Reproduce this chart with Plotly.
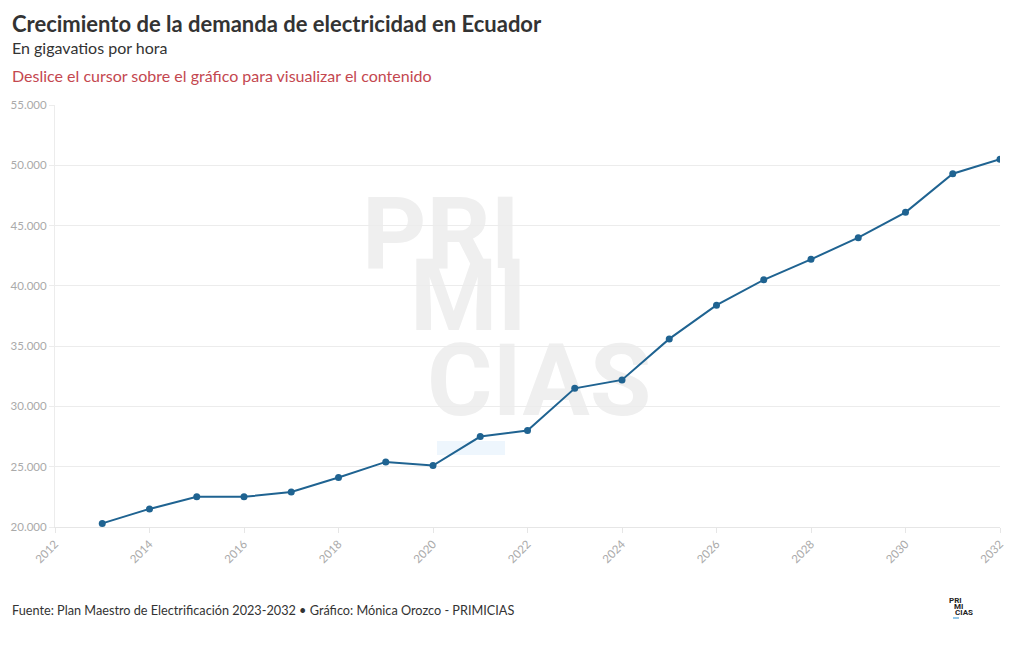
import plotly.graph_objects as go

years = [2013, 2014, 2015, 2016, 2017, 2018, 2019, 2020, 2021, 2022,
         2023, 2024, 2025, 2026, 2027, 2028, 2029, 2030, 2031, 2032]
demanda_gwh = [20300, 21500, 22500, 22500, 22900, 24100, 25400, 25100, 27500, 28000,
               31500, 32200, 35600, 38400, 40500, 42200, 44000, 46100, 49300, 50500]

title = "Crecimiento de la demanda de electricidad en Ecuador"
subtitle = "En gigavatios por hora"
hint = "Deslice el cursor sobre el gráfico para visualizar el contenido"
footer = "Fuente: Plan Maestro de Electrificación 2023-2032 • Gráfico: Mónica Orozco - PRIMICIAS"

OFF = 8  # page body margin
W, H = 1020 - 2 * OFF, 650 - 2 * OFF
# plot area in screen pixels
SX0, SX1, SY0, SY1 = 55, 1000, 105, 527
L, R, T, B = SX0 - OFF, (W + OFF) - SX1, SY0 - OFF, (H + OFF) - SY1
PW, PH = SX1 - SX0, SY1 - SY0


def px(x):
    return (x - SX0) / PW


def py(y):
    return (SY1 - y) / PH


FONT = "Lato"
LINE = "#1f6391"

fig = go.Figure()
fig.add_trace(go.Scatter(
    x=years, y=demanda_gwh, mode="lines+markers",
    line=dict(color=LINE, width=2),
    marker=dict(color=LINE, size=7),
    hovertemplate="%{x}: %{y:,.0f}<extra></extra>",
))

annotations = [
    dict(text=f"<b>{title}</b>", x=px(10), y=py(23), font=dict(size=22, color="#333333")),
    dict(text=subtitle, x=px(10), y=py(47), font=dict(size=16, color="#333333")),
    dict(text=hint, x=px(10), y=py(75), font=dict(size=16, color="#c4474f")),
    dict(text=footer, x=px(10), y=py(610), font=dict(size=12.7, color="#333333")),
]
for a in annotations:
    a.update(xref="paper", yref="paper", xanchor="left", yanchor="middle",
             showarrow=False, font_family=FONT)

# small logo
for txt, xl, yc in [("PRI", 947, 600), ("MI", 952, 606), ("CIAS", 953, 612)]:
    annotations.append(dict(text=f"<b>{txt}</b>", x=px(xl), y=py(yc), xref="paper", yref="paper",
                            xanchor="left", yanchor="middle", showarrow=False,
                            font=dict(size=8, color="#222222", family="Roboto")))

shapes = [
    dict(type="rect", xref="paper", yref="paper", x0=px(437), x1=px(505), y0=py(455), y1=py(441),
         fillcolor="#eef6fd", line_width=0, layer="below"),
    dict(type="line", xref="paper", yref="paper", x0=px(953), x1=px(959), y0=py(618), y1=py(618),
         line=dict(color="#6fb3e0", width=1.5)),
]
# watermark drawn below the data line
for txt, xl, yc in [("PRI", 359, 226), ("MI", 407, 288), ("CIAS", 424, 373)]:
    shapes.append(dict(type="rect", xref="paper", yref="paper",
                       x0=px(xl), x1=px(xl + 10), y0=py(yc + 5), y1=py(yc - 5),
                       line_width=0, fillcolor="rgba(0,0,0,0)", layer="below",
                       label=dict(text=f"<b>{txt}</b>", textposition="middle left", padding=0,
                                  xanchor="left",
                                  font=dict(size=100, color="#efefef", family="Roboto"))))

fig.update_layout(
    width=W, height=H,
    margin=dict(l=L, r=R, t=T, b=B, autoexpand=False),
    paper_bgcolor="white", plot_bgcolor="white",
    separators=",.",
    showlegend=False,
    font=dict(family=FONT),
    annotations=annotations,
    shapes=shapes,
    xaxis=dict(range=[2012, 2032], dtick=2, tick0=2012, tickangle=-45, automargin=False,
               showgrid=False, showline=True, linecolor="#e6e6e6", linewidth=1,
               ticks="outside", ticklen=5, tickcolor="#e6e6e6",
               tickfont=dict(size=11.5, color="#aaaaaa"), zeroline=False),
    yaxis=dict(range=[20000, 55000], dtick=5000, tickformat=",.0f", automargin=False,
               showgrid=True, gridcolor="#ececec", gridwidth=1,
               showline=True, linecolor="#ececec",
               ticks="outside", ticklen=5, tickcolor="#ececec",
               tickfont=dict(size=11.5, color="#aaaaaa"), zeroline=False),
    hoverlabel=dict(font_family=FONT),
)

fig.write_html("out.html")
